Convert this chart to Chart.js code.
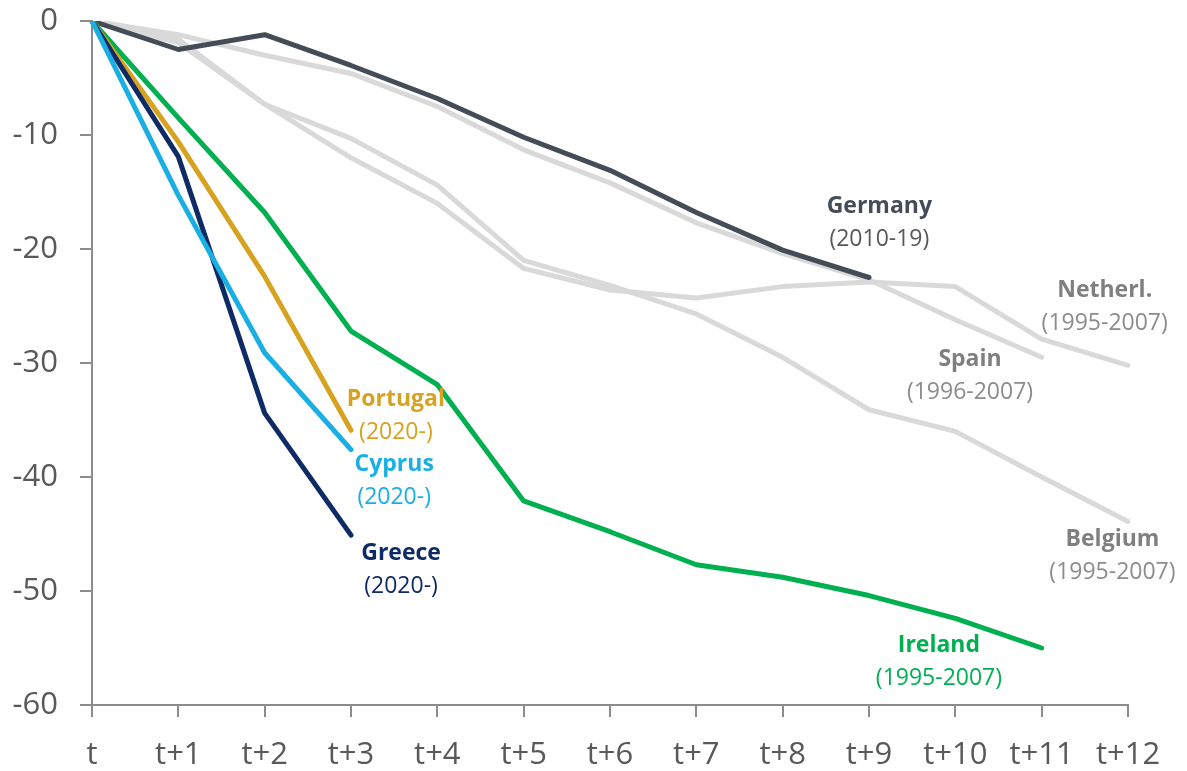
<!DOCTYPE html>
<html>
<head>
<meta charset="utf-8">
<title>Cumulative change after peak</title>
<script src="https://cdn.jsdelivr.net/npm/chart.js@4/dist/chart.umd.min.js"></script>
<style>
  html, body { margin: 0; padding: 0; background: #ffffff; }
  #wrap { position: relative; width: 1187px; height: 771px; }
</style>
</head>
<body>
<div id="wrap"><canvas id="chart"></canvas></div>
<script>
// Years after the start of each episode
const periods = ['t', 't+1', 't+2', 't+3', 't+4', 't+5', 't+6', 't+7', 't+8', 't+9', 't+10', 't+11', 't+12'];

// Cumulative change by episode
const germany     = [0, -2.5, -1.2, -3.9, -6.8, -10.2, -13.1, -16.8, -20.1, -22.5];
const ireland     = [0, -8.5, -16.8, -27.2, -31.9, -42.1, -44.8, -47.7, -48.8, -50.4, -52.4, -55.0];
const portugal    = [0, -10.6, -22.4, -35.9];
const cyprus      = [0, -15.3, -29.1, -37.6];
const greece      = [0, -11.9, -34.4, -45.1];
const netherlands = [0, -1.6, -7.3, -12.0, -16.0, -21.7, -23.6, -24.3, -23.3, -22.9, -23.3, -27.9, -30.2];
const spain       = [0, -1.2, -3.0, -4.6, -7.5, -11.3, -14.2, -17.7, -20.4, -22.7, -26.2, -29.5];
const belgium     = [0, -1.9, -7.3, -10.3, -14.4, -21.0, -23.2, -25.7, -29.5, -34.1, -36.0, -40.0, -43.9];

// Y-axis ticks
const yTicks = [0, -10, -20, -30, -40, -50, -60];

const C = {
  germany: '#444c57',
  ireland: '#00b050',
  portugal: '#d6a21f',
  cyprus: '#1aafe3',
  greece: '#0e2b66',
  grey: '#d9d9d9',
  greyText: '#7f7f7f',
  axis: '#8c8c8c',
  tick: '#595959'
};

// Series labels: [name, period, x position (period index), y position (value), name colour, period colour]
const seriesLabels = [
  ['Germany',  '(2010-19)',   9.12, -16.3, C.germany,  '#595959'],
  ['Netherl.', '(1995-2007)', 11.73, -23.6, C.greyText, '#8c8c8c'],
  ['Spain',    '(1996-2007)', 10.17, -29.7, C.greyText, '#8c8c8c'],
  ['Belgium',  '(1995-2007)', 11.82, -45.5, C.greyText, '#8c8c8c'],
  ['Ireland',  '(1995-2007)', 9.81, -54.8, C.ireland,  C.ireland],
  ['Portugal', '(2020-)',     3.52, -33.2, C.portugal, C.portugal],
  ['Cyprus',   '(2020-)',     3.50, -38.9, C.cyprus,   C.cyprus],
  ['Greece',   '(2020-)',     3.58, -46.7, C.greece,   C.greece]
];

const FONT = "'Open Sans', 'Noto Sans', 'DejaVu Sans', sans-serif";

function series(data, color, width) {
  return {
    data: data,
    borderColor: color,
    backgroundColor: color,
    borderWidth: width,
    pointRadius: 0,
    pointHoverRadius: 0,
    tension: 0,
    fill: false,
    borderJoinStyle: 'round',
    borderCapStyle: 'round'
  };
}

const labelPlugin = {
  id: 'seriesLabels',
  afterDatasetsDraw(chart) {
    const ctx = chart.ctx;
    const xs = chart.scales.x, ys = chart.scales.y;
    ctx.save();
    ctx.textAlign = 'center';
    ctx.textBaseline = 'middle';
    seriesLabels.forEach(([name, period, xi, yv, c1, c2]) => {
      const px = xs.getPixelForValue(xi);
      const py = ys.getPixelForValue(yv);
      ctx.font = '700 23px ' + FONT;
      ctx.fillStyle = c1;
      ctx.fillText(name, px, py);
      ctx.font = '400 23px ' + FONT;
      ctx.fillStyle = c2;
      ctx.fillText(period, px, py + 33);
    });
    ctx.restore();
  }
};

new Chart(document.getElementById('chart'), {
  type: 'line',
  data: {
    labels: periods,
    datasets: [
      series(cyprus, C.cyprus, 5),
      series(greece, C.greece, 5),
      series(portugal, C.portugal, 5),
      series(ireland, C.ireland, 5),
      series(germany, C.germany, 5),
      series(spain, C.grey, 5),
      series(netherlands, C.grey, 5),
      series(belgium, C.grey, 5)
    ]
  },
  options: {
    responsive: true,
    maintainAspectRatio: false,
    animation: false,
    events: [],
    layout: { padding: { top: 21, right: 59, left: 0, bottom: 0 } },
    plugins: {
      legend: { display: false },
      tooltip: { enabled: false },
      title: { display: false }
    },
    scales: {
      x: {
        type: 'category',
        offset: false,
        grid: { drawOnChartArea: false, drawTicks: true, tickLength: 12, color: C.axis, lineWidth: 2 },
        border: { display: true, color: C.axis, width: 2 },
        ticks: { color: C.tick, font: { family: FONT, size: 31 }, padding: 20, maxRotation: 0, autoSkip: false },
        afterFit(s) { s.height = 66; s.paddingLeft = 0; s.paddingRight = 0; }
      },
      y: {
        min: -60,
        max: 0,
        grid: { drawOnChartArea: false, drawTicks: true, tickLength: 12, color: C.axis, lineWidth: 2 },
        border: { display: true, color: C.axis, width: 2 },
        afterBuildTicks(s) { s.ticks = yTicks.map(v => ({ value: v })); },
        ticks: { color: C.tick, font: { family: FONT, size: 31 }, padding: 22 },
        afterFit(s) { s.width = 92; s.paddingTop = 0; s.paddingBottom = 0; }
      }
    }
  },
  plugins: [labelPlugin]
});
</script>
</body>
</html>
